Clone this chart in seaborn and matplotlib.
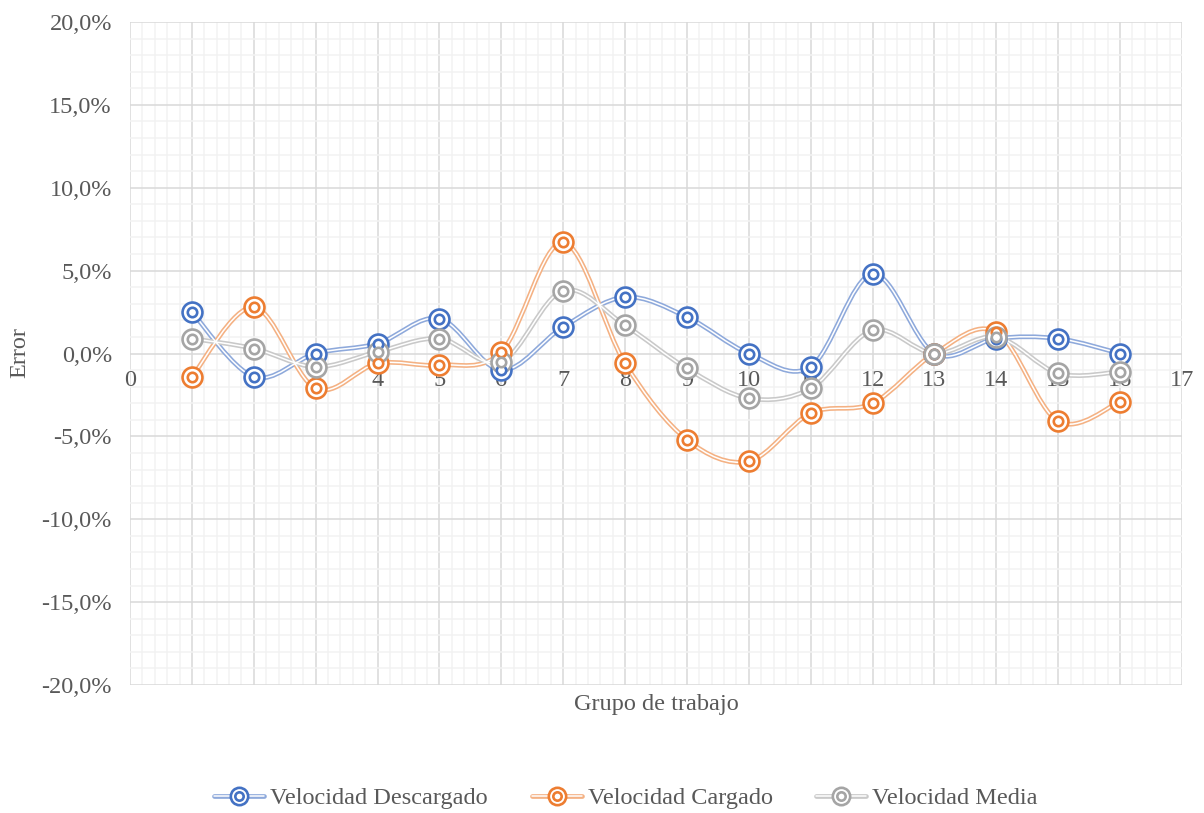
import numpy as np
import pandas as pd
import matplotlib
matplotlib.use("Agg")
import matplotlib.pyplot as plt
from matplotlib.path import Path
from matplotlib.patches import PathPatch
from matplotlib.lines import Line2D
from matplotlib.legend_handler import HandlerTuple
from matplotlib.ticker import MultipleLocator, FuncFormatter
import seaborn as sns

# Relative error (%) per work group
grupos = list(range(1, 17))
vel_descargado = [2.5, -1.4, 0.0, 0.6, 2.1, -1.0, 1.6, 3.4, 2.2, 0.0, -0.8, 4.8, 0.0, 0.9, 0.9, 0.0]
vel_cargado = [-1.4, 2.8, -2.1, -0.6, -0.7, 0.1, 6.7, -0.6, -5.2, -6.5, -3.6, -3.0, 0.0, 1.3, -4.1, -2.9]
vel_media = [0.9, 0.3, -0.8, 0.1, 0.9, -0.5, 3.8, 1.7, -0.9, -2.7, -2.1, 1.4, 0.0, 1.0, -1.2, -1.1]

series_names = ["Velocidad Descargado", "Velocidad Cargado", "Velocidad Media"]
series_values = [vel_descargado, vel_cargado, vel_media]
marker_colors = ["#4472C4", "#ED7D31", "#A5A5A5"]
line_colors = ["#8EA9DB", "#F4B183", "#C9C9C9"]

df = pd.DataFrame({
    "Grupo": grupos * 3,
    "Error": np.concatenate(series_values),
    "Serie": np.repeat(series_names, len(grupos)),
})

sns.set_theme(style="white")
plt.rcParams["font.family"] = ["Liberation Serif", "DejaVu Serif"]
text_color = "#595959"
fs = 17.5

fig = plt.figure(figsize=(12.04, 8.13), dpi=100)
ax = fig.add_axes([130 / 1204, 1 - 685 / 813, (1182 - 130) / 1204, (685 - 22) / 813])


def smooth_path(xs, ys):
    """Cubic Bezier path through the points (Catmull-Rom style tangents)."""
    pts = np.column_stack([xs, ys]).astype(float)
    n = len(pts)
    verts = [pts[0]]
    codes = [Path.MOVETO]
    for i in range(n - 1):
        p0 = pts[i - 1] if i > 0 else pts[i]
        p1 = pts[i]
        p2 = pts[i + 1]
        p3 = pts[i + 2] if i + 2 < n else pts[i + 1]
        c1 = p1 + (p2 - p0) / 6.0
        c2 = p2 - (p3 - p1) / 6.0
        verts += [c1, c2, p2]
        codes += [Path.CURVE4] * 3
    return Path(verts, codes)


LW_OUT, LW_IN = 3.4, 1.1
MEW = 1.9

# double ("compound") smoothed lines
for name, lc in zip(series_names, line_colors):
    sub = df[df["Serie"] == name]
    path = smooth_path(sub["Grupo"].values, sub["Error"].values)
    ax.add_patch(PathPatch(path, facecolor="none", edgecolor=lc, lw=LW_OUT,
                           zorder=3, capstyle="round", joinstyle="round"))
    ax.add_patch(PathPatch(path, facecolor="none", edgecolor="white", lw=LW_IN,
                           zorder=3.1, capstyle="round", joinstyle="round"))

palette = dict(zip(series_names, marker_colors))
# double-circle markers: outer ring from seaborn, inner ring on top
for name in series_names:
    sub = df[df["Serie"] == name]
    sns.scatterplot(data=sub, x="Grupo", y="Error", hue="Serie", palette=palette,
                    s=205, marker="o", linewidth=MEW, legend=False, ax=ax, zorder=4)
    coll = ax.collections[-1]
    coll.set_facecolor("white")
    coll.set_edgecolor(palette[name])
    ax.scatter(sub["Grupo"], sub["Error"], s=46, facecolor="white",
               edgecolor=palette[name], linewidth=MEW, zorder=4.1)

ax.set_xlim(0, 17)
ax.set_ylim(-20, 20)
ax.xaxis.set_major_locator(MultipleLocator(1))
ax.xaxis.set_minor_locator(MultipleLocator(0.2))
ax.yaxis.set_major_locator(MultipleLocator(5))
ax.yaxis.set_minor_locator(MultipleLocator(1))
ax.grid(which="major", color="#D9D9D9", lw=1.1, zorder=0)
ax.grid(which="minor", color="#F2F2F2", lw=1.1, zorder=0)
ax.set_axisbelow(True)
for s in ax.spines.values():
    s.set_visible(False)
ax.spines["bottom"].set_position(("data", 0))

ax.yaxis.set_major_formatter(FuncFormatter(lambda v, p: f"{v:.1f}%".replace(".", ",")))
ax.xaxis.set_major_formatter(FuncFormatter(lambda v, p: f"{int(round(v))}"))
ax.tick_params(axis="both", which="both", length=0, labelcolor=text_color, labelsize=fs)
ax.tick_params(axis="y", pad=13)
ax.tick_params(axis="x", pad=12)
ax.set_xlabel("")
ax.set_ylabel("")

ax.text(0.5, -0.03, "Grupo de trabajo", transform=ax.transAxes, ha="center",
        va="center", fontsize=fs, color=text_color)
fig.text(20 / 1204, 1 - 353 / 813, "Error", rotation=90, ha="center", va="center",
         fontsize=fs, color=text_color)

# legend with compound line + double-circle handles
handles = []
for lc, mc in zip(line_colors, marker_colors):
    h = (
        Line2D([], [], color=lc, lw=LW_OUT),
        Line2D([], [], color="white", lw=LW_IN),
        Line2D([], [], ls="none", marker="o", ms=12.5, mfc="white", mec=mc, mew=MEW),
        Line2D([], [], ls="none", marker="o", ms=6.0, mfc="white", mec=mc, mew=MEW),
    )
    handles.append(h)
leg = fig.legend(handles, series_names, loc="center", bbox_to_anchor=(0.52, 1 - 798 / 813),
                 ncol=3, frameon=False, fontsize=fs, handlelength=2.05,
                 handler_map={tuple: HandlerTuple(ndivide=1)},
                 columnspacing=1.8, handletextpad=0.25)
for t in leg.get_texts():
    t.set_color(text_color)

fig.savefig("out.png", dpi=100)
